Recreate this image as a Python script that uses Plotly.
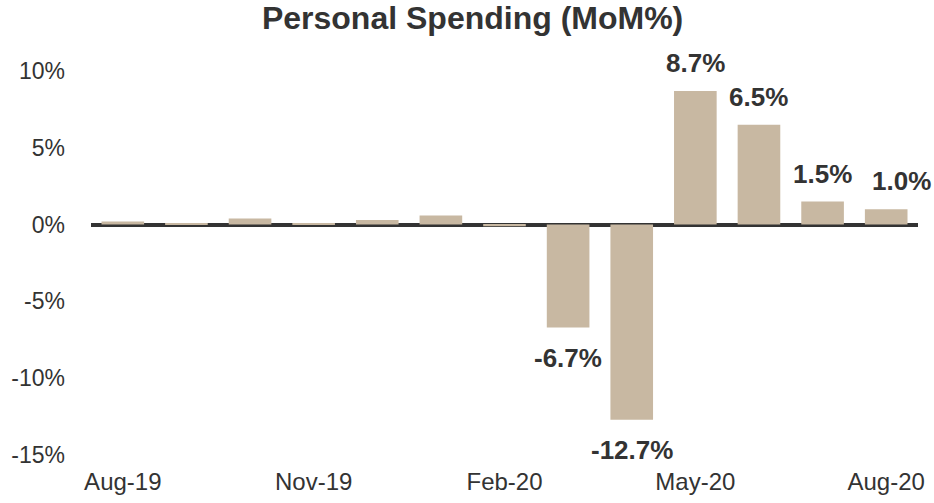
import plotly.graph_objects as go

months = ["Aug-19", "Sep-19", "Oct-19", "Nov-19", "Dec-19", "Jan-20", "Feb-20",
          "Mar-20", "Apr-20", "May-20", "Jun-20", "Jul-20", "Aug-20"]
spending_mom = [0.2, 0.1, 0.4, 0.1, 0.3, 0.6, -0.1, -6.7, -12.7, 8.7, 6.5, 1.5, 1.0]
labeled_from = "Mar-20"
tick_months = ["Aug-19", "Nov-19", "Feb-20", "May-20", "Aug-20"]
y_ticks = [10, 5, 0, -5, -10, -15]

start = months.index(labeled_from)
y_ticktext = [f"{v}%" for v in y_ticks]

FONT = "Arial"
DARK = "#333333"

fig = go.Figure(go.Bar(
    x=months, y=spending_mom,
    marker=dict(color="#C8B8A2", line=dict(width=0)),
    cliponaxis=False, hoverinfo="x+y",
))

for m, v in zip(months[start:], spending_mom[start:]):
    fig.add_annotation(
        x=m, y=v, text=f"<b>{v:.1f}%</b>", showarrow=False,
        yanchor="bottom" if v >= 0 else "top",
        yshift=11 if v >= 0 else -13,
        xshift=15 if m == months[-1] else 0,
        font=dict(family=FONT, size=26, color=DARK),
    )

fig.update_layout(
    template="none",
    width=934, height=503,
    margin=dict(l=91, r=16, t=71, b=48, autoexpand=False),
    paper_bgcolor="white", plot_bgcolor="white",
    bargap=0.33,
    title=dict(text="<b>Personal Spending (MoM%)</b>", x=0.506, xanchor="center",
               y=0.965, yanchor="middle",
               font=dict(family=FONT, size=32, color=DARK)),
    font=dict(family=FONT, size=22, color=DARK),
    showlegend=False,
)
fig.update_xaxes(type="category", range=[-0.5, len(months) - 0.5],
                 tickmode="array", tickvals=tick_months, ticktext=tick_months,
                 showgrid=False, showline=False, ticks="", zeroline=False,
                 automargin=False, ticklabelstandoff=10,
                 tickfont=dict(family=FONT, size=24, color=DARK))
fig.update_yaxes(range=[-15, 10], tickvals=y_ticks, ticktext=y_ticktext,
                 showgrid=False, zeroline=True, zerolinecolor=DARK,
                 zerolinewidth=4, ticks="", showline=False, automargin=False,
                 ticklabelstandoff=25,
                 tickfont=dict(family=FONT, size=23, color=DARK))

fig.write_html("out.html", config={"displayModeBar": False},
               post_script="document.body.style.margin='0';")
